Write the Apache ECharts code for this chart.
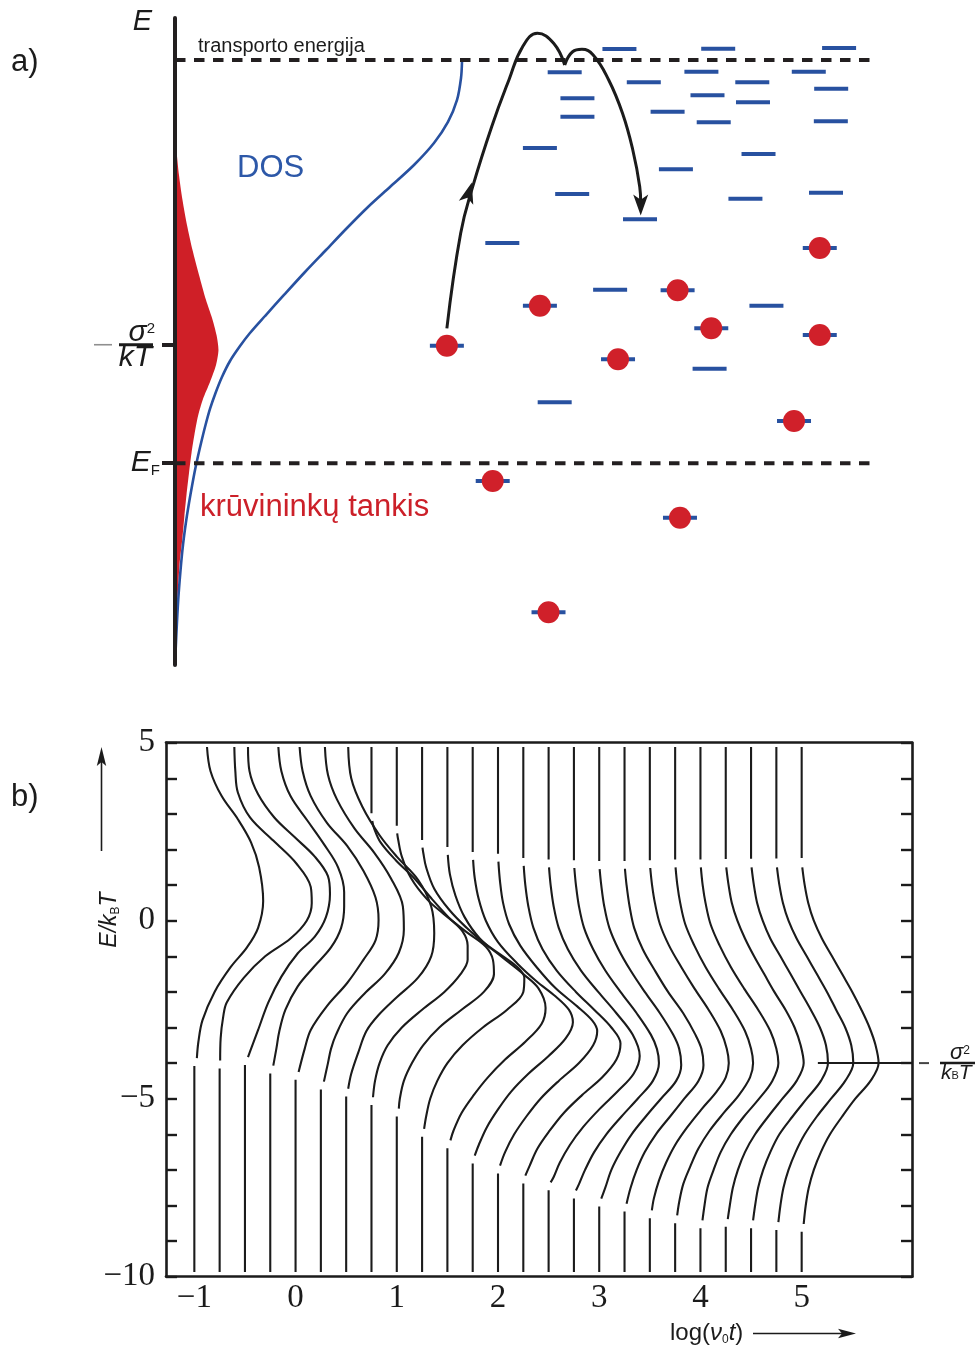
<!DOCTYPE html>
<html><head><meta charset="utf-8">
<script src="https://cdn.jsdelivr.net/npm/echarts@6/dist/echarts.min.js"></script>
<style>html,body{margin:0;padding:0;background:#fff}#c{width:980px;height:1349px}</style>
</head><body><div id="c"></div>
<script>
// ================= Panel a (schematic) : x = position (0-100), y = energy (0-100, arb. units)
const levelTransport = 93.5;
const levelSigma = 49.5;
const levelFermi = 31.2;
const dosCurve = [[41.0,93.2],[40.86,90.73],[40.29,87.33],[39.0,83.93],[37.0,80.68],[34.14,77.28],[30.71,73.88],[27.57,70.79],[24.57,67.54],[21.57,64.14],[18.57,60.74],[15.57,57.19],[12.86,53.94],[10.71,51.31],[9.29,49.3],[7.86,46.99],[6.71,44.51],[5.79,42.04],[5.0,39.57],[4.36,37.09],[3.79,34.62],[3.29,32.3],[2.86,30.14],[2.43,27.67],[2.0,25.04],[1.57,22.1],[1.14,18.55],[0.79,14.68],[0.46,10.05],[0.19,4.64],[0,0]];
const carrierDensity = [[0,83.46],[0.21,79.6],[0.57,75.73],[1.07,71.87],[1.71,68.01],[2.5,64.14],[3.43,60.28],[4.43,56.41],[5.29,53.63],[5.93,51.0],[6.21,48.69],[5.86,46.37],[5.0,43.74],[4.0,41.11],[3.29,38.49],[2.79,35.7],[2.36,32.77],[2.0,29.68],[1.64,26.28],[1.33,22.87],[1.06,19.63],[0.64,15.46],[0.36,10.05],[0.19,5.41],[0.07,0]];
const emptySites = [[63.49,95.21],[77.6,95.26],[94.87,95.36],[55.67,91.61],[75.2,91.7],[90.54,91.7],[66.97,90.06],[82.47,90.06],[93.74,89.07],[57.49,87.59],[76.07,88.05],[82.57,86.97],[57.49,84.74],[70.37,85.52],[76.96,83.88],[93.69,84.03],[52.13,79.91],[83.36,78.98],[71.56,76.62],[56.74,72.8],[81.49,72.07],[93.0,73.0],[66.43,68.89],[46.76,65.22],[62.16,58.01],[84.49,55.53],[76.37,45.8],[54.24,40.6]];
const occupiedSites = [[38.84,49.35],[52.13,55.53],[63.29,47.25],[71.8,57.91],[76.61,52.04],[92.11,64.45],[92.11,51.0],[88.43,37.71],[45.39,28.44],[72.14,22.77],[53.36,8.15]];
const hopPathUp = [[38.84,52.04],[40.81,66.72],[42.53,73.93],[45.24,83.2],[47.7,90.42],[49.66,95.56],[51.77,97.63],[54.09,96.09],[55.67,92.74]];
const hopPathDown = [[55.67,92.74],[56.8,94.79],[58.13,95.16],[59.74,94.28],[61.96,90.42],[63.93,85.27],[65.4,79.6],[66.39,73.93],[66.53,71.5]];
const arrowHeads = [[41.99,73.0,-16],[66.53,71.1,180]];

// ================= Panel b : x = log(nu0 t), y = E/kT
const logTimes = [-1,-0.75,-0.5,-0.25,0,0.25,0.5,0.75,1,1.25,1.5,1.75,2,2.25,2.5,2.75,3,3.25,3.5,3.75,4,4.25,4.5,4.75,5];
const xTickValues = [-1,0,1,2,3,4,5];
const sigmaLevelB = -4;
const sigmaLineStart = 5.16;
// each curve: [E, horizontal displacement] from bottom to top, null = break in the drawn line
const curveShapes = [
 [[-9.87,0],[-4.08,0],null,[-3.86,0.025],[-3.4,0.04],[-2.8,0.08],[-2.0,0.2],[-1.3,0.36],[-0.75,0.52],[-0.2,0.63],[0.55,0.68],[1.5,0.64],[2.2,0.56],[2.85,0.43],[3.5,0.27],[4.2,0.16],[4.88,0.125]],
 [[-9.87,0],[-4.15,0],null,[-3.93,0.005],[-3.3,0.01],[-2.7,0.035],[-2.3,0.07],[-1.6,0.24],[-1.0,0.45],[-0.5,0.7],[0.0,0.86],[0.5,0.91],[0.95,0.9],[1.6,0.76],[2.25,0.53],[2.9,0.3],[3.6,0.18],[4.2,0.155],[4.88,0.145]],
 [[-9.87,0],[-4.05,0],null,[-3.83,0.03],[-3.6,0.06],[-3.07,0.13],[-2.3,0.23],[-1.57,0.36],[-0.92,0.52],[-0.45,0.69],[0.1,0.8],[0.75,0.84],[1.25,0.82],[1.8,0.69],[2.35,0.49],[2.9,0.29],[3.55,0.13],[4.2,0.045],[4.88,0.03]],
 [[-9.87,0],[-4.29,0],null,[-4.07,0.03],[-3.6,0.06],[-3.1,0.09],[-2.5,0.15],[-1.85,0.27],[-1.3,0.43],[-0.75,0.6],[-0.2,0.7],[0.4,0.73],[0.8,0.73],[1.5,0.67],[2.15,0.53],[2.8,0.37],[3.5,0.2],[4.2,0.11],[4.88,0.08]],
 [[-9.87,0],[-4.47,0],null,[-4.25,0.03],[-3.6,0.09],[-3.07,0.15],[-2.4,0.31],[-1.75,0.51],[-1.1,0.67],[-0.55,0.79],[0.02,0.82],[0.65,0.79],[1.4,0.67],[2.1,0.51],[2.75,0.31],[3.5,0.15],[4.2,0.07],[4.88,0.04]],
 [[-9.87,0],[-4.74,0],null,[-4.52,0.03],[-4.0,0.07],[-3.6,0.1],[-3.2,0.15],[-2.6,0.26],[-2.05,0.43],[-1.5,0.63],[-0.9,0.77],[-0.25,0.82],[0.4,0.81],[1.2,0.69],[1.9,0.53],[2.6,0.33],[3.4,0.16],[4.1,0.07],[4.88,0.04]],
 [[-9.87,0],[-4.94,0],null,[-4.72,0.02],[-4.3,0.05],[-3.7,0.12],[-3.1,0.2],[-2.65,0.32],[-2.15,0.5],[-1.6,0.71],[-1.0,0.84],[-0.35,0.87],[0.4,0.84],[1.15,0.71],[1.8,0.5],[2.4,0.33],[3.2,0.16],[4.0,0.05],[4.88,0.02]],
 [[-9.87,0],[-5.18,0],null,[-4.96,0.015],[-4.5,0.035],[-4.0,0.08],[-3.5,0.16],[-3.0,0.3],[-2.5,0.5],[-2.0,0.72],[-1.5,0.88],[-1.1,0.95],[-0.7,0.95],[-0.3,0.9],[0.1,0.76],[0.6,0.6],[1.2,0.42],[1.7,0.24],[2.2,0.09],[2.6,0.025],[2.8,0.008],null,[3.02,0],[4.88,0]],
 [[-9.87,0],[-5.5,0],null,[-5.28,0.02],[-5.0,0.03],[-4.5,0.07],[-4.0,0.15],[-3.5,0.26],[-3.0,0.42],[-2.5,0.64],[-2.0,0.86],[-1.5,0.96],[-1.1,0.95],[-0.73,0.88],[-0.3,0.68],[0.2,0.46],[0.6,0.3],[1.2,0.14],[1.8,0.05],[2.3,0.012],[2.45,0.004],null,[2.67,0],[4.88,0]],
 [[-9.87,0],[-6.07,0],null,[-5.85,0.02],[-5.5,0.04],[-5.0,0.08],[-4.5,0.15],[-4.0,0.25],[-3.5,0.4],[-3.0,0.6],[-2.5,0.84],[-2.0,1.0],[-1.6,1.01],[-1.3,0.94],[-1.0,0.8],[-0.6,0.6],[-0.2,0.44],[0.3,0.27],[0.9,0.12],[1.5,0.04],[1.9,0.012],[2.05,0.004],null,[2.27,0],[4.88,0]],
 [[-9.87,0],[-6.39,0],null,[-6.17,0.03],[-5.9,0.06],[-5.4,0.14],[-4.9,0.26],[-4.4,0.4],[-3.9,0.57],[-3.4,0.77],[-2.9,0.93],[-2.45,0.97],[-1.9,0.9],[-1.5,0.75],[-1.0,0.53],[-0.5,0.32],[0.1,0.17],[0.7,0.08],[1.3,0.025],[1.85,0.004],null,[2.07,0],[4.88,0]],
 [[-9.87,0],[-6.82,0],null,[-6.6,0.02],[-6.3,0.06],[-5.8,0.14],[-5.3,0.25],[-4.8,0.38],[-4.3,0.55],[-3.8,0.75],[-3.3,0.92],[-2.85,0.99],[-2.5,0.95],[-2.13,0.82],[-1.7,0.63],[-1.2,0.44],[-0.6,0.25],[0.0,0.13],[0.6,0.06],[1.2,0.02],[1.71,0.004],null,[1.93,0],[4.88,0]],
 [[-9.87,0],[-7.1,0],null,[-6.88,0.02],[-6.5,0.07],[-6.0,0.16],[-5.5,0.28],[-5.0,0.42],[-4.5,0.6],[-4.0,0.8],[-3.5,0.94],[-3.1,0.98],[-2.8,0.93],[-2.4,0.78],[-1.9,0.57],[-1.3,0.38],[-0.7,0.22],[-0.1,0.11],[0.5,0.05],[1.1,0.02],[1.66,0.004],null,[1.88,0],[4.88,0]],
 [[-9.87,0],[-7.38,0],null,[-7.16,0.02],[-6.9,0.06],[-6.4,0.14],[-5.9,0.26],[-5.4,0.4],[-4.9,0.58],[-4.4,0.78],[-3.9,0.92],[-3.45,0.96],[-3.0,0.87],[-2.5,0.7],[-2.0,0.52],[-1.4,0.33],[-0.8,0.19],[-0.2,0.1],[0.4,0.05],[1.0,0.02],[1.54,0.004],null,[1.76,0],[4.88,0]],
 [[-9.87,0],[-7.57,0],null,[-7.35,0.02],[-7.2,0.05],[-6.8,0.11],[-6.3,0.21],[-5.8,0.34],[-5.3,0.5],[-4.8,0.68],[-4.3,0.84],[-3.8,0.9],[-3.2,0.83],[-2.6,0.67],[-2.0,0.49],[-1.4,0.32],[-0.8,0.19],[-0.2,0.1],[0.4,0.05],[1.0,0.02],[1.5,0.004],null,[1.72,0],[4.88,0]],
 [[-9.87,0],[-7.8,0],null,[-7.58,0.02],[-7.4,0.05],[-7.0,0.11],[-6.5,0.2],[-6.0,0.32],[-5.5,0.47],[-5.0,0.63],[-4.5,0.78],[-4.0,0.84],[-3.6,0.82],[-3.2,0.76],[-2.6,0.62],[-2.0,0.46],[-1.4,0.31],[-0.8,0.19],[-0.2,0.1],[0.4,0.05],[1.0,0.02],[1.48,0.004],null,[1.7,0],[4.88,0]],
 [[-9.87,0],[-8.03,0],null,[-7.81,0.02],[-7.5,0.06],[-7.0,0.12],[-6.5,0.21],[-6.0,0.32],[-5.5,0.46],[-5.0,0.61],[-4.5,0.76],[-4.05,0.81],[-3.6,0.79],[-3.2,0.73],[-2.6,0.6],[-2.0,0.45],[-1.4,0.31],[-0.8,0.19],[-0.2,0.1],[0.4,0.05],[1.0,0.02],[1.45,0.004],null,[1.68,0],[4.88,0]],
 [[-9.87,0],[-8.17,0],null,[-7.95,0.02],[-7.5,0.06],[-7.0,0.12],[-6.5,0.2],[-6.0,0.31],[-5.5,0.45],[-5.0,0.59],[-4.5,0.73],[-4.05,0.78],[-3.6,0.76],[-3.2,0.7],[-2.6,0.58],[-2.0,0.43],[-1.4,0.3],[-0.8,0.18],[-0.2,0.095],[0.4,0.05],[1.0,0.02],[1.46,0.004],null,[1.68,0],[4.88,0]],
 [[-9.87,0],[-8.36,0],null,[-8.14,0.02],[-7.8,0.04],[-7.3,0.09],[-6.8,0.16],[-6.3,0.25],[-5.8,0.37],[-5.3,0.51],[-4.8,0.66],[-4.4,0.75],[-4.0,0.78],[-3.6,0.76],[-3.1,0.7],[-2.5,0.58],[-1.9,0.44],[-1.3,0.31],[-0.7,0.19],[-0.1,0.1],[0.5,0.05],[1.0,0.022],[1.48,0.004],null,[1.7,0],[4.88,0]],
 [[-9.87,0],[-8.5,0],null,[-8.28,0.02],[-7.9,0.04],[-7.4,0.08],[-6.9,0.15],[-6.4,0.23],[-5.9,0.34],[-5.4,0.48],[-4.9,0.63],[-4.4,0.74],[-4.0,0.77],[-3.6,0.75],[-3.1,0.69],[-2.5,0.57],[-1.9,0.43],[-1.3,0.3],[-0.7,0.19],[-0.1,0.1],[0.5,0.05],[1.0,0.022],[1.5,0.004],null,[1.72,0],[4.88,0]],
 [[-9.87,0],[-8.64,0],null,[-8.42,0.02],[-8.0,0.04],[-7.5,0.07],[-7.0,0.13],[-6.5,0.2],[-6.0,0.3],[-5.5,0.43],[-5.0,0.58],[-4.5,0.71],[-4.0,0.77],[-3.6,0.75],[-3.1,0.69],[-2.5,0.57],[-1.9,0.43],[-1.3,0.3],[-0.7,0.19],[-0.1,0.1],[0.5,0.05],[1.0,0.022],[1.5,0.004],null,[1.72,0],[4.88,0]],
 [[-9.87,0],[-8.6,0],null,[-8.38,0.02],[-8.0,0.04],[-7.5,0.07],[-7.0,0.12],[-6.5,0.19],[-6.0,0.29],[-5.5,0.42],[-5.0,0.56],[-4.5,0.7],[-4.0,0.77],[-3.5,0.74],[-3.0,0.68],[-2.5,0.59],[-2.0,0.48],[-1.5,0.38],[-1.0,0.28],[-0.5,0.19],[0.0,0.115],[0.5,0.06],[1.0,0.028],[1.5,0.005],null,[1.73,0],[4.88,0]],
 [[-9.87,0],[-8.64,0],null,[-8.42,0.02],[-8.0,0.04],[-7.5,0.07],[-7.0,0.12],[-6.5,0.19],[-6.0,0.28],[-5.5,0.41],[-5.0,0.55],[-4.5,0.69],[-4.0,0.76],[-3.5,0.74],[-3.0,0.68],[-2.5,0.59],[-2.0,0.49],[-1.5,0.39],[-1.0,0.29],[-0.5,0.19],[0.0,0.115],[0.5,0.06],[1.0,0.028],[1.5,0.005],null,[1.74,0],[4.88,0]],
 [[-9.87,0],[-8.69,0],null,[-8.47,0.02],[-8.0,0.04],[-7.5,0.07],[-7.0,0.12],[-6.5,0.19],[-6.0,0.28],[-5.5,0.4],[-5.0,0.54],[-4.5,0.68],[-4.0,0.76],[-3.5,0.74],[-3.0,0.68],[-2.5,0.59],[-2.0,0.5],[-1.5,0.4],[-1.0,0.3],[-0.5,0.2],[0.0,0.12],[0.5,0.065],[1.0,0.03],[1.5,0.006],null,[1.75,0],[4.88,0]],
 [[-9.87,0],[-8.74,0],null,[-8.52,0.02],[-8.0,0.04],[-7.5,0.07],[-7.0,0.12],[-6.5,0.19],[-6.0,0.28],[-5.5,0.4],[-5.0,0.53],[-4.5,0.68],[-4.0,0.76],[-3.5,0.73],[-3.0,0.67],[-2.5,0.59],[-2.0,0.5],[-1.5,0.4],[-1.0,0.3],[-0.5,0.2],[0.0,0.12],[0.5,0.065],[1.0,0.03],[1.5,0.006],null,[1.76,0],[4.88,0]]
];

// ================= styling
const sans = '"Liberation Sans", Arial, sans-serif';
const serif = '"Liberation Serif", "Times New Roman", serif';
const INK = '#1b1b1b';
const AX = '#231f20';
const BLUE = '#2851a0';
const RED = '#d0202a';
const fmtNum = v => (v < 0 ? '\u2212' + Math.abs(v) : String(v));

const chart = echarts.init(document.getElementById('c'), null, {renderer: 'canvas', width: 980, height: 1349});

const curveSeries = curveShapes.map((shape, k) => ({
  type: 'line', xAxisIndex: 1, yAxisIndex: 1, silent: true,
  symbol: 'none', smooth: 0.35, connectNulls: false, z: 2,
  lineStyle: {color: INK, width: 2.1},
  data: shape.map(p => p === null ? ['-', '-'] : [logTimes[k] + p[1], p[0]])
}));

const arrowPath = 'path://M0,0 L7,20 L0,15 L-7,20 Z';

const option = {
  animation: false,
  backgroundColor: '#ffffff',
  grid: [
    {left: 175, top: 18, width: 700, height: 647, containLabel: false, outerBoundsMode: 'none'},
    {left: 166, top: 742.7, width: 746, height: 534, containLabel: false, outerBoundsMode: 'none'}
  ],
  xAxis: [
    {gridIndex: 0, type: 'value', min: 0, max: 100, show: false},
    {gridIndex: 1, type: 'value', min: -1.28, max: 6.09, position: 'bottom',
     axisLine: {show: true, onZero: false, lineStyle: {color: INK, width: 2.6}},
     axisTick: {show: false}, splitLine: {show: false},
     axisLabel: {show: true, customValues: xTickValues, formatter: fmtNum, fontFamily: serif, fontSize: 33, color: INK, margin: 5}},
    {gridIndex: 1, type: 'value', min: -1.28, max: 6.09, position: 'top',
     axisLine: {show: true, onZero: false, lineStyle: {color: INK, width: 2.6}},
     axisTick: {show: false}, axisLabel: {show: false}, splitLine: {show: false}}
  ],
  yAxis: [
    {gridIndex: 0, type: 'value', min: 0, max: 100, z: 5,
     axisLine: {show: true, onZero: false, lineStyle: {color: AX, width: 4}},
     axisTick: {show: true, customValues: [levelSigma, levelFermi], length: 13, lineStyle: {color: AX, width: 4}},
     splitLine: {show: false},
     axisLabel: {show: true, customValues: [100, levelSigma, levelFermi], margin: 15, color: INK,
       formatter: function (v) {
         if (v === 100) return '{et|E}';
         if (v === levelSigma) return '{num|\u03c3}{sup|2}\n{mn| }{gp| }{bar| }{sp| }\n{den|kT}';
         return '{ef|E}{sub|F}';
       },
       rich: {
         et: {fontFamily: sans, fontStyle: 'italic', fontSize: 29, color: INK, padding: [8, 8, 0, 0]},
         num: {fontFamily: sans, fontStyle: 'italic', fontSize: 30, lineHeight: 22, color: INK},
         sup: {fontFamily: sans, fontSize: 15, lineHeight: 14, verticalAlign: 'top', color: INK, padding: [0, 5, 0, 0]},
         mn: {width: 18, height: 1.6, fontSize: 1, lineHeight: 3, backgroundColor: '#8f8f8f'},
         gp: {width: 7, height: 3, fontSize: 1, lineHeight: 3},
         bar: {width: 34, height: 3, fontSize: 1, lineHeight: 3, backgroundColor: INK},
         sp: {width: 7, height: 3, fontSize: 1, lineHeight: 3},
         den: {fontFamily: sans, fontStyle: 'italic', fontSize: 30, lineHeight: 22, color: INK, padding: [0, 8, 0, 0]},
         ef: {fontFamily: sans, fontStyle: 'italic', fontSize: 30, lineHeight: 30, color: INK},
         sub: {fontFamily: sans, fontSize: 15, lineHeight: 14, verticalAlign: 'bottom', color: INK}
       }}},
    {gridIndex: 1, type: 'value', min: -10, max: 5, interval: 1, position: 'left',
     axisLine: {show: true, onZero: false, lineStyle: {color: INK, width: 2.6}},
     axisTick: {show: true, inside: true, length: 11, lineStyle: {color: INK, width: 2.4}},
     splitLine: {show: false},
     axisLabel: {show: true, showMinLabel: true, showMaxLabel: true, margin: 11, fontFamily: serif, fontSize: 33, color: INK,
       formatter: v => (v % 5 === 0 ? fmtNum(v) : '')}},
    {gridIndex: 1, type: 'value', min: -10, max: 5, interval: 1, position: 'right',
     axisLine: {show: true, onZero: false, lineStyle: {color: INK, width: 2.6}},
     axisTick: {show: true, inside: true, length: 11, lineStyle: {color: INK, width: 2.4}},
     splitLine: {show: false}, axisLabel: {show: false}}
  ],
  series: [
    {type: 'custom', xAxisIndex: 0, yAxisIndex: 0, silent: true, z: 1,
     data: carrierDensity,
     renderItem: function (params, api) {
       if (params.dataIndex !== 0) return null;
       const pts = carrierDensity.map(p => api.coord(p));
       pts.push(api.coord([0, 0]));
       return {type: 'polygon', shape: {points: pts, smooth: 0.25}, style: {fill: '#cf1f27'}};
     }},
    {type: 'line', xAxisIndex: 0, yAxisIndex: 0, silent: true, symbol: 'none', smooth: 0.3, z: 2,
     lineStyle: {color: BLUE, width: 2.6}, data: dosCurve},
    {type: 'line', xAxisIndex: 0, yAxisIndex: 0, silent: true, symbol: 'none', z: 2,
     lineStyle: {color: AX, width: 4, type: [10.5, 8.5]}, data: [[0, levelTransport], [99.7, levelTransport]]},
    {type: 'line', xAxisIndex: 0, yAxisIndex: 0, silent: true, symbol: 'none', z: 2,
     lineStyle: {color: AX, width: 4, type: [10.5, 8.5]}, data: [[0, levelFermi], [99.7, levelFermi]]},
    {type: 'scatter', xAxisIndex: 0, yAxisIndex: 0, silent: true, z: 3,
     symbol: 'rect', symbolSize: [34, 4], itemStyle: {color: BLUE, opacity: 1}, data: emptySites.concat(occupiedSites)},
    {type: 'scatter', xAxisIndex: 0, yAxisIndex: 0, silent: true, z: 4,
     symbol: 'circle', symbolSize: 22, itemStyle: {color: RED, opacity: 1}, data: occupiedSites},
    {type: 'line', xAxisIndex: 0, yAxisIndex: 0, silent: true, symbol: 'none', smooth: 0.45, z: 5,
     lineStyle: {color: INK, width: 3}, data: hopPathUp},
    {type: 'line', xAxisIndex: 0, yAxisIndex: 0, silent: true, symbol: 'none', smooth: 0.45, z: 5,
     lineStyle: {color: INK, width: 3}, data: hopPathDown},
    {type: 'scatter', xAxisIndex: 0, yAxisIndex: 0, silent: true, z: 6,
     symbol: arrowPath, symbolSize: [15, 21], itemStyle: {color: INK, opacity: 1},
     data: arrowHeads.map(a => ({value: [a[0], a[1]], symbolRotate: a[2]}))},
    ...curveSeries,
    {type: 'line', xAxisIndex: 1, yAxisIndex: 1, silent: true, symbol: 'none', z: 3,
     lineStyle: {color: INK, width: 2}, data: [[sigmaLineStart, sigmaLevelB], [6.09, sigmaLevelB]],
     endLabel: {show: true, distance: 7, color: INK,
       formatter: () => '{pd| }{num|\u03c3}{sup|2}\n{mn| }{gp| }{bar| }\n{pd2| }{den|k}{sub|B}{den|T}',
       rich: {
         pd: {width: 31, height: 17, fontSize: 1, lineHeight: 17},
         num: {fontFamily: sans, fontStyle: 'italic', fontSize: 22, lineHeight: 17, color: INK},
         sup: {fontFamily: sans, fontSize: 12, lineHeight: 11, verticalAlign: 'top', color: INK},
         mn: {width: 10, height: 2, fontSize: 1, lineHeight: 3, backgroundColor: '#444'},
         gp: {width: 11, height: 3, fontSize: 1, lineHeight: 3},
         bar: {width: 35, height: 2.5, fontSize: 1, lineHeight: 3, backgroundColor: INK},
         pd2: {width: 22, height: 17, fontSize: 1, lineHeight: 17},
         den: {fontFamily: sans, fontStyle: 'italic', fontSize: 21, lineHeight: 17, color: INK},
         sub: {fontFamily: sans, fontSize: 11, lineHeight: 10, verticalAlign: 'bottom', color: INK}
       }}}
  ],
  graphic: [
    {type: 'text', x: 11, y: 62, silent: true, style: {text: 'a)', font: '31px ' + sans, fill: INK, align: 'left', verticalAlign: 'middle'}},
    {type: 'text', x: 11, y: 797, silent: true, style: {text: 'b)', font: '31px ' + sans, fill: INK, align: 'left', verticalAlign: 'middle'}},
    {type: 'text', x: 198, y: 46, silent: true, style: {text: 'transporto energija', font: '20px ' + sans, fill: INK, align: 'left', verticalAlign: 'middle'}},
    {type: 'text', x: 237, y: 168, silent: true, style: {text: 'DOS', font: '31px ' + sans, fill: '#2d58a8', align: 'left', verticalAlign: 'middle'}},
    {type: 'text', x: 200, y: 507, silent: true, style: {text: 'kr\u016bvinink\u0173 tankis', font: '31px ' + sans, fill: '#cc2029', align: 'left', verticalAlign: 'middle'}},
    {type: 'text', x: 110, y: 920, rotation: Math.PI / 2, silent: true,
     style: {text: '{i|E/k}{s|B}{i|T}', align: 'center', verticalAlign: 'middle',
       rich: {i: {fontFamily: sans, fontStyle: 'italic', fontSize: 23, lineHeight: 24, fill: INK, color: INK},
              s: {fontFamily: sans, fontSize: 12, lineHeight: 12, verticalAlign: 'bottom', fill: INK, color: INK}}}},
    {type: 'text', x: 670, y: 1333, silent: true,
     style: {text: '{n|log(}{i|\u03bd}{s|0}{i|t}{n|)}', align: 'left', verticalAlign: 'middle',
       rich: {n: {fontFamily: sans, fontSize: 24, lineHeight: 26, fill: INK, color: INK},
              i: {fontFamily: sans, fontStyle: 'italic', fontSize: 24, lineHeight: 26, fill: INK, color: INK},
              s: {fontFamily: sans, fontSize: 12, lineHeight: 12, verticalAlign: 'bottom', fill: INK, color: INK}}}},
    {type: 'line', silent: true, shape: {x1: 101.5, y1: 851, x2: 101.5, y2: 762}, style: {stroke: INK, lineWidth: 1.6}},
    {type: 'polygon', silent: true, shape: {points: [[101.5, 747], [96.8, 766], [101.5, 762], [106.2, 766]]}, style: {fill: INK}},
    {type: 'line', silent: true, shape: {x1: 753, y1: 1333.5, x2: 843, y2: 1333.5}, style: {stroke: INK, lineWidth: 1.6}},
    {type: 'polygon', silent: true, shape: {points: [[856, 1333.5], [838, 1328.8], [842, 1333.5], [838, 1338.2]]}, style: {fill: INK}}
  ]
};
chart.setOption(option);
</script>
</body></html>
